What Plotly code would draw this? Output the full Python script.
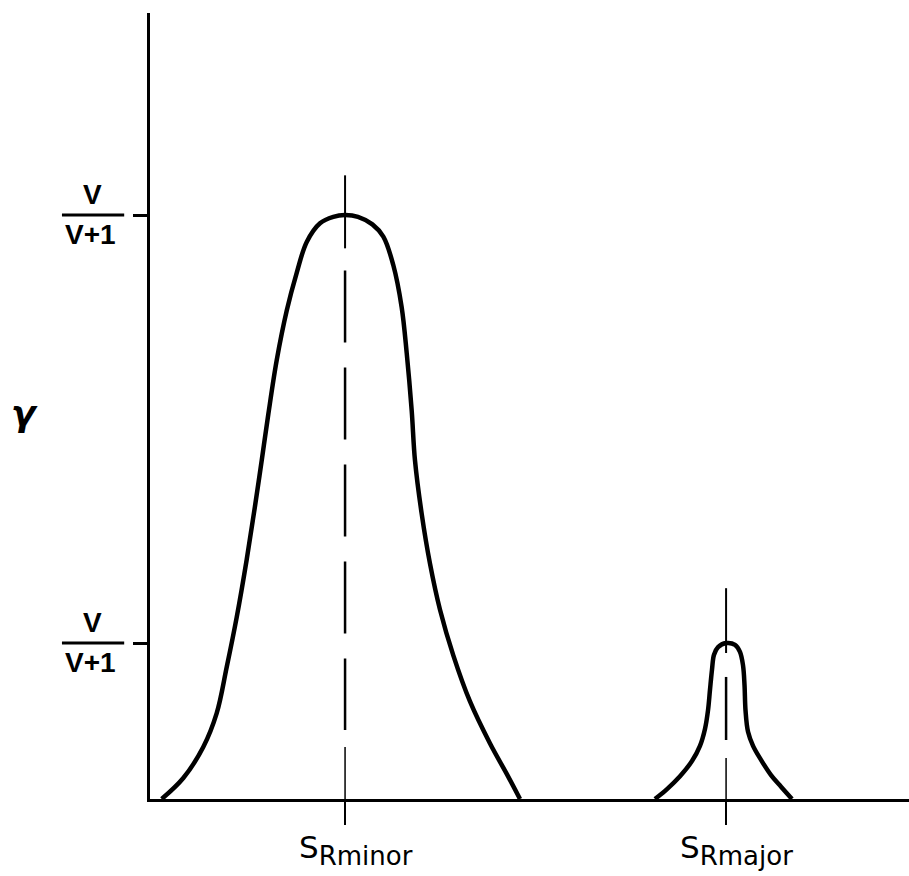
import plotly.graph_objects as go

# ---- data ----
minor_x = [0.154, 0.439, 0.702, 0.879, 1.011, 1.142, 1.274, 1.383, 1.472, 1.559, 1.669,
           1.801, 1.933, 2.065, 2.240, 2.415, 2.569,
           2.740, 2.930, 3.074, 3.206, 3.316, 3.382, 3.448, 3.491, 3.580, 3.689, 3.821, 3.996,
           4.216, 4.480, 4.700, 4.875]
minor_y = [0.0, 0.036, 0.089, 0.147, 0.226, 0.311, 0.410, 0.501, 0.580, 0.659, 0.751,
           0.836, 0.901, 0.954, 0.986, 0.997, 1.0,
           0.997, 0.984, 0.963, 0.914, 0.842, 0.764, 0.665, 0.580, 0.488, 0.403, 0.324, 0.246,
           0.167, 0.095, 0.043, 0.0]

major_x = [6.653, 6.812, 6.983, 7.141, 7.246, 7.312, 7.352, 7.378, 7.404, 7.431, 7.484, 7.589,
           7.708, 7.773, 7.813, 7.833, 7.846, 7.879, 7.945, 8.050, 8.182, 8.314, 8.458]
major_y = [0.0, 0.017, 0.039, 0.065, 0.091, 0.120, 0.152, 0.187, 0.221, 0.247, 0.260, 0.267,
           0.264, 0.252, 0.229, 0.195, 0.152, 0.115, 0.091, 0.067, 0.041, 0.021, 0.0]

x_ticks = [2.57, 7.59]
x_tick_main = ["S", "S"]
x_tick_sub = ["Rminor", "Rmajor"]
y_ticks = [0.267, 1.0]
y_tick_num = ["V", "V"]
y_tick_den = ["V+1", "V+1"]
y_label = "γ"

# vertical guide segments (y extents) at each peak centre
minor_guide_solid = [1.068, 0.943]
minor_guide_dash = [0.905, 0.118]
minor_guide_thin = [0.089, 0.0]
major_guide_solid = [0.361, 0.250]
major_guide_dash = [0.209, 0.101]
major_guide_thin = [0.070, 0.0]

FONT = "DejaVu Sans"
TFONT = "Liberation Sans"
fig = go.Figure()

def vseg(xc, ys, width, dash="solid"):
    fig.add_trace(go.Scatter(x=[xc] * len(ys), y=ys, mode="lines",
                             line=dict(color="black", width=width, dash=dash),
                             hoverinfo="skip", showlegend=False, cliponaxis=False))

for xc, s, d, t in [(x_ticks[0], minor_guide_solid, minor_guide_dash, minor_guide_thin),
                    (x_ticks[1], major_guide_solid, major_guide_dash, major_guide_thin)]:
    vseg(xc, s, 2)
    vseg(xc, d, 2.5, "72px,25px")
    vseg(xc, t, 1.5)

for px, py in [(minor_x, minor_y), (major_x, major_y)]:
    fig.add_trace(go.Scatter(x=px, y=py, mode="lines",
                             line=dict(color="black", width=4.5, shape="spline", smoothing=1.0),
                             hoverinfo="skip", showlegend=False, cliponaxis=False))

# y tick labels as stacked fractions
for yv, num, den in zip(y_ticks, y_tick_num, y_tick_den):
    fig.add_annotation(x=0, y=yv, xref="x", yref="y", text=num, showarrow=False,
                       xanchor="center", yanchor="bottom", xshift=-58, yshift=3,
                       font=dict(family=TFONT, size=28, color="black", weight="bold"))
    fig.add_annotation(x=0, y=yv, xref="x", yref="y", text=den, showarrow=False,
                       xanchor="center", yanchor="top", xshift=-60, yshift=-2,
                       font=dict(family=TFONT, size=28, color="black", weight="bold"))
    fig.add_shape(type="line", xref="paper", yref="y", x0=-0.116, x1=-0.034,
                  y0=yv, y1=yv, line=dict(color="black", width=3))

# x tick labels
for xv, m, s in zip(x_ticks, x_tick_main, x_tick_sub):
    lab = m + "<sub><span style='font-size:26px'>" + s + "</span></sub>"
    fig.add_annotation(x=xv, y=0, xref="x", yref="paper", text=lab, showarrow=False,
                       xanchor="left", yanchor="top", xshift=-48, yshift=-28,
                       font=dict(family=FONT, size=31, color="black"))

# y axis label
fig.add_annotation(x=0, y=(y_ticks[0] + y_ticks[1]) / 2, xref="paper", yref="y",
                   text=y_label, showarrow=False, xanchor="center", yanchor="middle",
                   xshift=-126, yshift=16,
                   font=dict(family=FONT, size=36, color="black", style="italic",
                             weight="bold"))

fig.update_layout(
    width=909, height=876,
    margin=dict(l=150, r=0, t=13, b=77),
    paper_bgcolor="white", plot_bgcolor="white",
    xaxis=dict(range=[0, 10], showgrid=False, zeroline=False, showline=True,
               linecolor="black", linewidth=3, ticks="outside", ticklen=23,
               tickwidth=1.5, tickcolor="black", tickvals=x_ticks,
               showticklabels=False, fixedrange=True),
    yaxis=dict(range=[0, 1.346], showgrid=False, zeroline=False, showline=True,
               linecolor="black", linewidth=3, ticks="outside", ticklen=14,
               tickwidth=3, tickcolor="black", tickvals=y_ticks,
               showticklabels=False, fixedrange=True),
)

fig.write_html("out.html")
